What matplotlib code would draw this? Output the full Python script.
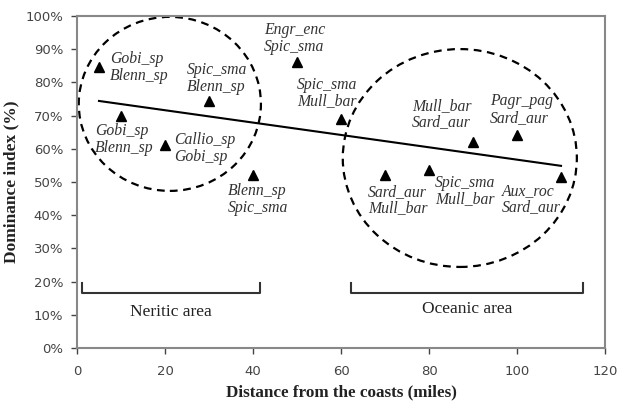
import numpy as np
import matplotlib.pyplot as plt
from matplotlib.patches import Ellipse
import matplotlib.ticker as mticker

# data
distance = [5, 10, 20, 30, 40, 50, 60, 70, 80, 90, 100, 110]
dominance = [84.5, 70, 61, 74.5, 52, 86, 69, 52, 53.5, 62, 64, 51.5]
species = ["Gobi_sp\nBlenn_sp", "Gobi_sp\nBlenn_sp", "Callio_sp\nGobi_sp",
           "Spic_sma\nBlenn_sp", "Blenn_sp\nSpic_sma", "Engr_enc\nSpic_sma",
           "Spic_sma\nMull_bar", "Sard_aur\nMull_bar", "Spic_sma\nMull_bar",
           "Mull_bar\nSard_aur", "Pagr_pag\nSard_aur", "Aux_roc\nSard_aur"]
areas = ["Neritic area", "Oceanic area"]
area_ranges = [(1.1, 41.6), (62.3, 115)]

# label offsets in pixels (left edge, vertical centre)
label_offsets = [(11, 0), (-26, -24), (9, -3), (-22, 22), (-25, -24), (-33, 24),
                 (-44, 26), (-17, -25), (6, -21), (-61, 28), (-27, 26), (-59, -22)]

fig = plt.figure(figsize=(6.18, 4.07), dpi=100)
ax = fig.add_axes([0.1246, 0.145, 0.8544, 0.816])

ax.plot(distance, dominance, '^', color='black', markersize=7, zorder=3)

# linear trend
coef = np.polyfit(distance, dominance, 1)
xs = np.array([distance[0], distance[-1]])
ax.plot(xs, np.polyval(coef, xs), color='black', lw=1.5)

for x, y, txt, off in zip(distance, dominance, species, label_offsets):
    ax.annotate(txt, (x, y), xytext=off, textcoords='offset pixels',
                ha='left', va='center', fontsize=11.3, style='italic',
                family='Liberation Serif', color='#333333', linespacing=1.05)

# dashed groupings
ax.add_patch(Ellipse((21.1, 73.5), 41.4, 52.4, fill=False, ls=(0, (3.5, 2.5)),
                     lw=1.6, color='black'))
ax.add_patch(Ellipse((87, 57.2), 53.2, 65.6, fill=False, ls=(0, (3.5, 2.5)),
                     lw=1.6, color='black'))

# brackets
for name, (x0, x1), ty in zip(areas, area_ranges, [10.8, 11.7]):
    ax.plot([x0, x0, x1, x1], [19.6, 16.6, 16.6, 19.6], color='#333333', lw=1.5)
    ax.text((x0 + x1) / 2, ty, name, ha='center', va='center', fontsize=12.5,
            family='Liberation Serif', color='#222222')

ax.set_xlim(0, 120)
ax.set_ylim(0, 100)
ax.set_xticks(range(0, 121, 20))
ax.set_yticks(range(0, 101, 10))
ax.yaxis.set_major_formatter(mticker.FuncFormatter(lambda v, p: f"{v:.0f}%"))
ax.tick_params(labelsize=9.5, colors='#444444', length=4, width=1, direction='out')
ax.tick_params(axis='x', pad=8)
ax.tick_params(axis='y', pad=6)
for sp in ax.spines.values():
    sp.set_color('#888888')
    sp.set_linewidth(1.5)

ax.set_xlabel("Distance from the coasts (miles)", fontsize=12.3, fontweight='bold',
              family='Liberation Serif', color='#222222', labelpad=5)
ax.set_ylabel("Dominance index (%)", fontsize=12.5, fontweight='bold',
              family='Liberation Serif', color='#222222', labelpad=4)

fig.savefig("out.png", dpi=100)
